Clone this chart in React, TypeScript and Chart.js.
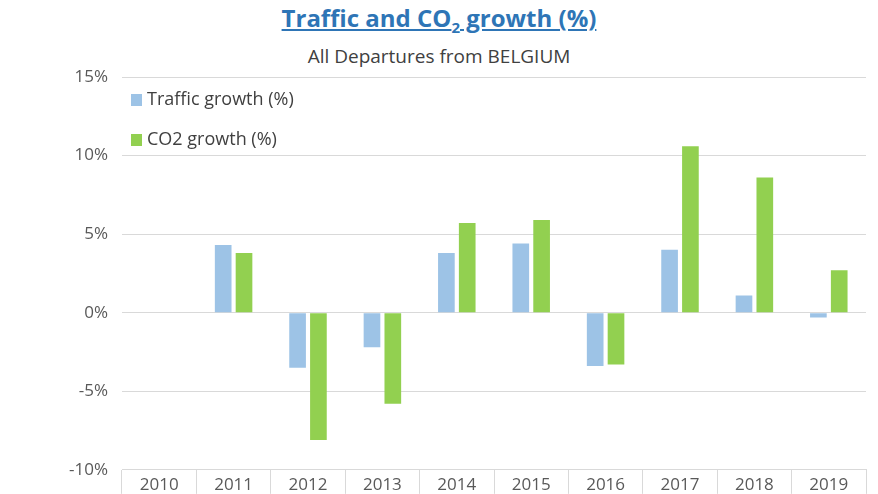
import React, { useEffect, useRef } from "react";
import { Chart, registerables } from "chart.js";
Chart.register(...registerables);

const years = ["2010", "2011", "2012", "2013", "2014", "2015", "2016", "2017", "2018", "2019"];
const trafficGrowth = [null, 4.3, -3.5, -2.2, 3.8, 4.4, -3.4, 4.0, 1.1, -0.3];
const co2Growth = [null, 3.8, -8.1, -5.8, 5.7, 5.9, -3.3, 10.6, 8.6, 2.7];
const seriesLabels = ["Traffic growth (%)", "CO2 growth (%)"];
const FONT = "'Open Sans', 'Liberation Sans', sans-serif";

const legendInside = {
  id: "legendInside",
  afterDraw(chart: any) {
    const ctx = chart.ctx;
    const { left, top } = chart.chartArea;
    ctx.save();
    ctx.font = `18px ${FONT}`;
    ctx.textBaseline = "middle";
    chart.data.datasets.forEach((ds: any, i: number) => {
      const y = top + 23 + i * 40;
      ctx.fillStyle = ds.backgroundColor;
      ctx.fillRect(left + 9, y - 6, 11, 12);
      ctx.fillStyle = "#404040";
      ctx.fillText(ds.label, left + 25, y);
    });
    // x category labels inside the tick band
    const xs = chart.scales.x;
    ctx.font = `17px ${FONT}`;
    ctx.fillStyle = "#595959";
    ctx.textAlign = "center";
    chart.data.labels.forEach((lab: string, i: number) => {
      ctx.fillText(lab, xs.getPixelForValue(i), chart.chartArea.bottom + 15);
    });
    ctx.restore();
  },
};

export default function App() {
  const ref = useRef<HTMLCanvasElement>(null);
  useEffect(() => {
    document.body.style.margin = "0";
    const chart = new Chart(ref.current!, {
      type: "bar",
      data: {
        labels: years,
        datasets: [
          { label: seriesLabels[0], data: trafficGrowth, backgroundColor: "#9DC3E6" },
          { label: seriesLabels[1], data: co2Growth, backgroundColor: "#92D050" },
        ],
      },
      plugins: [legendInside],
      options: {
        animation: false,
        responsive: false,
        datasets: { bar: { barPercentage: 0.8, categoryPercentage: 0.56 } },
        layout: { padding: { top: 77, left: 0, right: 12, bottom: 0 } },
        plugins: { legend: { display: false }, title: { display: false }, tooltip: { enabled: false } },
        scales: {
          x: {
            grid: { offset: true, drawOnChartArea: false, tickLength: 24, color: "#d9d9d9" },
            border: { color: "#d9d9d9" },
            ticks: { display: false },
            afterFit(s: any) { s.height = 24; },
          },
          y: {
            min: -10,
            max: 15,
            afterFit(s: any) { s.width = 122; },
            ticks: { stepSize: 5, color: "#595959", padding: 14, font: { family: FONT, size: 17 }, callback: (v: any) => v + "%" },
            grid: { color: "#d9d9d9", drawTicks: false },
            border: { display: false },
          },
        },
      },
    } as any);
    return () => chart.destroy();
  }, []);
  return (
    <div style={{ position: "relative", width: 878, height: 494, background: "#fff", fontFamily: FONT }}>
      <div style={{ position: "absolute", top: 1, width: "100%", textAlign: "center", color: "#2E75B6", fontWeight: "bold", fontSize: 24, textDecoration: "underline" }}>
        Traffic and CO<sub style={{ fontSize: 15 }}>2</sub> growth (%)
      </div>
      <div style={{ position: "absolute", top: 43, width: "100%", textAlign: "center", color: "#404040", fontSize: 19 }}>
        All Departures from BELGIUM
      </div>
      <canvas ref={ref} width={878} height={494} style={{ position: "absolute", left: 0, top: 0 }} />
    </div>
  );
}
